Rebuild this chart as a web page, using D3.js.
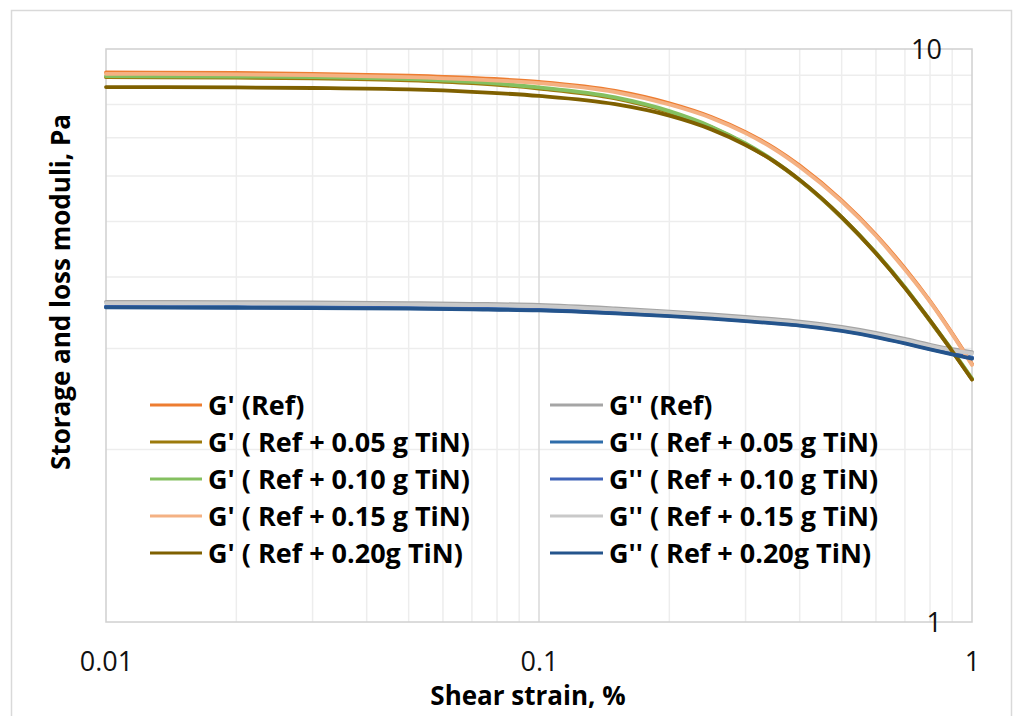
<!DOCTYPE html>
<html>
<head>
<meta charset="utf-8">
<script src="https://cdn.jsdelivr.net/npm/d3@7"></script>
<style>
  html, body { margin: 0; padding: 0; background: #ffffff; }
  svg { display: block; font-family: "Open Sans", "Liberation Sans", sans-serif; }
</style>
</head>
<body>
<svg id="chart" width="1013" height="716"></svg>
<script>
// ---------------- data ----------------
const strain = [0.01, 0.02, 0.03, 0.05, 0.07, 0.1, 0.15, 0.2, 0.25, 0.3, 0.35, 0.4, 0.5, 0.6, 0.7, 0.8, 0.9, 1.0];

const gpRef   = [9.10, 9.08, 9.05, 8.98, 8.90, 8.76, 8.45, 8.04, 7.61, 7.16, 6.71, 6.26, 5.44, 4.74, 4.14, 3.63, 3.19, 2.82];
const gpp_Ref = [3.620, 3.615, 3.611, 3.601, 3.592, 3.576, 3.526, 3.482, 3.443, 3.408, 3.376, 3.344, 3.273, 3.196, 3.119, 3.047, 2.993, 2.958];
const gp005   = [8.93, 8.91, 8.89, 8.82, 8.72, 8.53, 8.20, 7.76, 7.30, 6.82, 6.35, 5.90, 5.08, 4.40, 3.83, 3.35, 2.97, 2.65];
const gpp005  = [3.554, 3.549, 3.545, 3.536, 3.526, 3.511, 3.469, 3.431, 3.397, 3.364, 3.333, 3.304, 3.234, 3.156, 3.076, 3.003, 2.943, 2.893];
const gp010   = [8.97, 8.95, 8.93, 8.86, 8.76, 8.57, 8.23, 7.79, 7.32, 6.84, 6.37, 5.91, 5.09, 4.41, 3.84, 3.36, 2.98, 2.66];
const gpp010  = [3.547, 3.542, 3.538, 3.529, 3.519, 3.504, 3.462, 3.424, 3.390, 3.358, 3.327, 3.298, 3.227, 3.149, 3.070, 2.997, 2.937, 2.887];
const gp015   = [9.05, 9.03, 9.00, 8.93, 8.85, 8.72, 8.41, 8.00, 7.58, 7.13, 6.68, 6.23, 5.42, 4.72, 4.12, 3.62, 3.18, 2.81];
const gpp015  = [3.602, 3.597, 3.593, 3.583, 3.574, 3.558, 3.508, 3.465, 3.426, 3.391, 3.359, 3.327, 3.257, 3.180, 3.103, 3.032, 2.978, 2.943];
const gp020   = [8.58, 8.57, 8.55, 8.50, 8.42, 8.28, 8.01, 7.65, 7.24, 6.80, 6.36, 5.91, 5.09, 4.40, 3.83, 3.36, 2.97, 2.65];
const gpp020  = [3.540, 3.535, 3.531, 3.522, 3.512, 3.497, 3.455, 3.417, 3.383, 3.351, 3.320, 3.291, 3.221, 3.143, 3.064, 2.991, 2.931, 2.881];

const seriesNames = [
  "G' (Ref)", "G'' (Ref)",
  "G' ( Ref + 0.05 g TiN)", "G'' ( Ref + 0.05 g TiN)",
  "G' ( Ref + 0.10 g TiN)", "G'' ( Ref + 0.10 g TiN)",
  "G' ( Ref + 0.15 g TiN)", "G'' ( Ref + 0.15 g TiN)",
  "G' ( Ref + 0.20g TiN)", "G'' ( Ref + 0.20g TiN)"
];
const seriesValues = [gpRef, gpp_Ref, gp005, gpp005, gp010, gpp010, gp015, gpp015, gp020, gpp020];
const seriesColors = ["#ED7D31", "#A5A5A5", "#9C7A0C", "#2E6DAA", "#84C060", "#3F63B8", "#F4B183", "#C9C9C9", "#7F6000", "#24548C"];

const xTicks = [0.01, 0.1, 1];
const xTickLabels = ["0.01", "0.1", "1"];
const yTicks = [1, 10];
const yTickLabels = ["1", "10"];
const xMinor = [0.02,0.03,0.04,0.05,0.06,0.07,0.08,0.09,0.2,0.3,0.4,0.5,0.6,0.7,0.8,0.9];
const yMinor = [2,3,4,5,6,7,8,9];

const xTitle = "Shear strain, %";
const yTitle = "Storage and loss moduli, Pa";

// ---------------- layout ----------------
const svg = d3.select("#chart");
const plot = { left: 106, top: 49, right: 972, bottom: 622 };

const x = d3.scaleLog().domain([0.01, 1]).range([plot.left, plot.right]);
const y = d3.scaleLog().domain([1, 10]).range([plot.bottom, plot.top]);

// outer chart border
svg.append("rect")
  .attr("x", 11.5).attr("y", 10.5).attr("width", 1000).attr("height", 720)
  .attr("fill", "none").attr("stroke", "#D9D9D9").attr("stroke-width", 1.5);

const grid = svg.append("g");
grid.selectAll("line.vmin").data(xMinor).join("line")
  .attr("x1", d => x(d)).attr("x2", d => x(d))
  .attr("y1", plot.top).attr("y2", plot.bottom)
  .attr("stroke", "#EDEDED").attr("stroke-width", 1.5);
grid.selectAll("line.hmin").data(yMinor).join("line")
  .attr("y1", d => y(d)).attr("y2", d => y(d))
  .attr("x1", plot.left).attr("x2", plot.right)
  .attr("stroke", "#EDEDED").attr("stroke-width", 1.5);
grid.selectAll("line.vmaj").data([0.1]).join("line")
  .attr("x1", d => x(d)).attr("x2", d => x(d))
  .attr("y1", plot.top).attr("y2", plot.bottom)
  .attr("stroke", "#D9D9D9").attr("stroke-width", 1.5);

// plot frame
svg.append("rect")
  .attr("x", plot.left).attr("y", plot.top)
  .attr("width", plot.right - plot.left).attr("height", plot.bottom - plot.top)
  .attr("fill", "none").attr("stroke", "#D0D0D0").attr("stroke-width", 1.5);

// axes (labels only, via d3 axis generators)
const xAxis = d3.axisBottom(x).tickValues(xTicks)
  .tickFormat((d, i) => xTickLabels[i]).tickSize(0).tickPadding(0);
const gx = svg.append("g").attr("transform", `translate(0,${plot.bottom})`).call(xAxis);
gx.select(".domain").remove();
gx.selectAll("text")
  .attr("y", 49).attr("dy", null)
  .attr("font-size", 27).attr("fill", "#111").attr("font-family", "Open Sans");

const yAxis = d3.axisLeft(y).tickValues(yTicks)
  .tickFormat((d, i) => yTickLabels[i]).tickSize(0).tickPadding(0);
const gy = svg.append("g").attr("transform", `translate(942,0)`).call(yAxis);
gy.select(".domain").remove();
gy.selectAll("text")
  .attr("x", 0).attr("dy", "0.36em").attr("text-anchor", "end")
  .attr("font-size", 27).attr("fill", "#111").attr("font-family", "Open Sans");

// series lines
const line = d3.line()
  .x((d, i) => x(strain[i]))
  .y(d => y(d))
  .curve(d3.curveMonotoneX);

svg.append("g").selectAll("path").data(seriesValues).join("path")
  .attr("d", d => line(d))
  .attr("fill", "none")
  .attr("stroke", (d, i) => seriesColors[i])
  .attr("stroke-width", 3.8)
  .attr("stroke-linecap", "round");

// legend
const legendRows = [405, 442, 479, 516, 553];
const legendCols = [{ x0: 150, x1: 202, tx: 208 }, { x0: 550, x1: 603, tx: 609 }];
const leg = svg.append("g");
seriesNames.forEach((name, i) => {
  const col = legendCols[i % 2];
  const ry = legendRows[Math.floor(i / 2)];
  leg.append("line")
    .attr("x1", col.x0).attr("x2", col.x1).attr("y1", ry).attr("y2", ry)
    .attr("stroke", seriesColors[i]).attr("stroke-width", 3);
  leg.append("text")
    .attr("x", col.tx).attr("y", ry).attr("dy", "0.36em")
    .attr("font-size", 27).attr("font-weight", "bold").attr("fill", "#000")
    .text(name);
});

// axis titles
svg.append("text")
  .attr("x", (plot.left + plot.right) / 2 - 11).attr("y", 705)
  .attr("text-anchor", "middle")
  .attr("font-size", 26).attr("font-weight", "bold").attr("fill", "#000")
  .text(xTitle);

svg.append("text")
  .attr("transform", `translate(70,292) rotate(-90)`)
  .attr("text-anchor", "middle")
  .attr("font-size", 26).attr("font-weight", "bold").attr("fill", "#000")
  .text(yTitle);
</script>
</body>
</html>
